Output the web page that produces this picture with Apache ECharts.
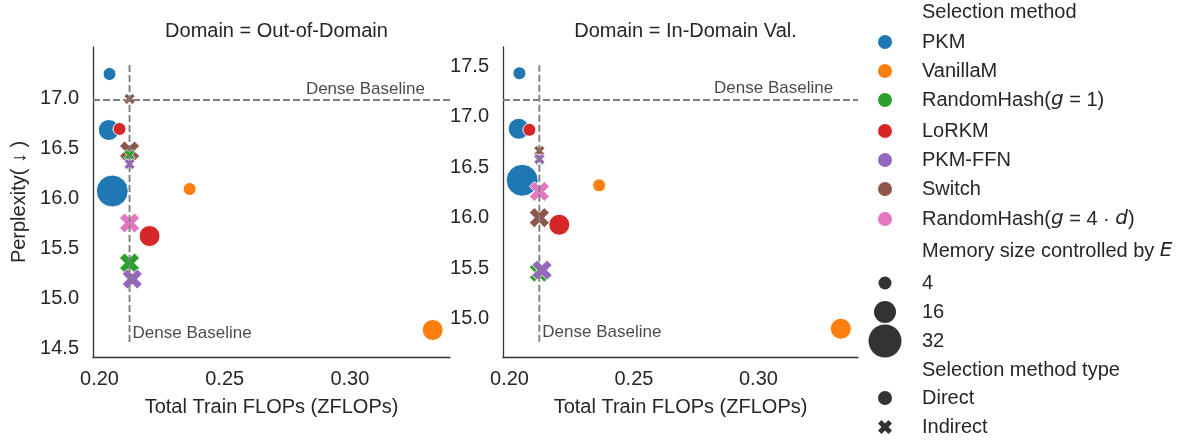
<!DOCTYPE html>
<html lang="en">
<head>
    <meta charset="UTF-8">
    <title>Perplexity vs FLOPs</title>
    <script src="https://cdn.jsdelivr.net/npm/echarts@6/dist/echarts.min.js"></script>
    <style>
        body { margin: 0; background: #fff; }
    </style>
</head>
<body>
<div id="chart" style="width: 1188px;height:441px;"></div>
<script>
    // legend order (hue order)
    var methods = ['PKM', 'VanillaM', 'RandomHash(g=1)', 'LoRKM', 'PKM-FFN', 'Switch', 'RandomHash(g=4d)'];
    var methodColors = ['#1f77b4', '#ff7f0e', '#2ca02c', '#d62728', '#9467bd', '#8c564b', '#e377c2'];
    var methodType = ['Direct', 'Direct', 'Indirect', 'Direct', 'Indirect', 'Indirect', 'Indirect'];
    var memSizes = [4, 16, 32];
    var panels = ['Domain = Out-of-Domain', 'Domain = In-Domain Val.'];
    var xTicks = [0.20, 0.25, 0.30];
    var yTicksOod = [14.5, 15.0, 15.5, 16.0, 16.5, 17.0];
    var yTicksInd = [15.0, 15.5, 16.0, 16.5, 17.0, 17.5];

    // per method: E, train FLOPs, perplexity (out-of-domain / in-domain val.)
    var pkmE = [4, 16, 32];
    var pkmFlops = [0.204, 0.2037, 0.2051];
    var pkmOod = [17.24, 16.68, 16.07];
    var pkmInd = [17.43, 16.88, 16.37];

    var vanillaE = [4, 16];
    var vanillaFlops = [0.236, 0.3331];
    var vanillaOod = [16.09, 14.68];
    var vanillaInd = [16.32, 14.90];

    var rh1E = [4, 16];
    var rh1Flops = [0.212, 0.212];
    var rh1Ood = [16.43, 15.35];
    var rh1Ind = [16.57, 15.46];

    var lorkmE = [4, 16];
    var lorkmFlops = [0.208, 0.220];
    var lorkmOod = [16.69, 15.62];
    var lorkmInd = [16.87, 15.93];

    var pkmffnE = [4, 16];
    var pkmffnFlops = [0.212, 0.2131];
    var pkmffnOod = [16.34, 15.19];
    var pkmffnInd = [16.58, 15.48];

    var switchE = [4, 16];
    var switchFlops = [0.212, 0.212];
    var switchOod = [16.99, 16.47];
    var switchInd = [16.66, 16.00];

    var rh4dE = [16];
    var rh4dFlops = [0.212];
    var rh4dOod = [15.75];
    var rh4dInd = [16.26];

    // dense baseline
    var denseFlops = 0.212;
    var densePpl = [16.98, 17.17];
    var denseVLow = [14.56, 14.77];
    var denseVHigh = [17.33, 17.51];

    // drawing order
    var runs = [
        [0, pkmE, pkmFlops, pkmOod, pkmInd],
        [1, vanillaE, vanillaFlops, vanillaOod, vanillaInd],
        [3, lorkmE, lorkmFlops, lorkmOod, lorkmInd],
        [5, switchE, switchFlops, switchOod, switchInd],
        [2, rh1E, rh1Flops, rh1Ood, rh1Ind],
        [4, pkmffnE, pkmffnFlops, pkmffnOod, pkmffnInd],
        [6, rh4dE, rh4dFlops, rh4dOod, rh4dInd]
    ];

    var TXT = '#262626';
    var FONT = 'Liberation Sans';
    var X_PTS = [[-1, -0.5], [-0.5, -1], [0, -0.5], [0.5, -1], [1, -0.5], [0.5, 0],
        [1, 0.5], [0.5, 1], [0, 0.5], [-0.5, 1], [-1, 0.5], [-0.5, 0]];
    var X_PATH = 'M' + X_PTS.map(function (q) { return q[0] + ',' + q[1]; }).join(' L') + ' Z';
    var circleSize = {4: 13, 16: 21, 32: 32};
    var crossSize = {4: 11, 16: 20, 32: 28};

    var chart = echarts.init(document.getElementById('chart'));

    var grids = [
        {left: 93, top: 47, width: 357, height: 310},
        {left: 503, top: 47, width: 355, height: 310}
    ];
    var yRanges = [[14.41, 17.51], [14.62, 17.69]];
    var yTicks = [yTicksOod, yTicksInd];

    var xAxes = [], yAxes = [], titles = [], series = [];
    for (var p = 0; p < 2; p++) {
        xAxes.push({
            type: 'value', gridIndex: p, min: 0.1974, max: 0.34,
            name: 'Total Train FLOPs (ZFLOPs)', nameLocation: 'middle', nameGap: 40,
            nameTextStyle: {color: TXT, fontSize: 20, fontFamily: FONT},
            axisLine: {show: true, lineStyle: {color: '#333', width: 1.3}},
            axisTick: {show: false},
            splitLine: {show: false},
            axisLabel: {
                customValues: xTicks, margin: 12, color: TXT, fontSize: 20, fontFamily: FONT,
                formatter: function (v) { return v.toFixed(2); }
            }
        });
        yAxes.push({
            type: 'value', gridIndex: p, min: yRanges[p][0], max: yRanges[p][1],
            name: p === 0 ? 'Perplexity( \u2193 )' : '', nameLocation: 'middle', nameGap: 64,
            nameTextStyle: {color: TXT, fontSize: 20, fontFamily: FONT},
            axisLine: {show: true, lineStyle: {color: '#333', width: 1.3}},
            axisTick: {show: false},
            splitLine: {show: false},
            axisLabel: {
                customValues: yTicks[p], margin: 14, color: TXT, fontSize: 20, fontFamily: FONT,
                formatter: function (v) { return v.toFixed(1); }
            }
        });
        titles.push({
            text: panels[p], left: grids[p].left + grids[p].width / 2, top: 16, textAlign: 'center',
            textStyle: {color: TXT, fontSize: 20, fontWeight: 'normal', fontFamily: FONT}
        });

        var dashStyle = {color: '#7f7f7f', width: 1.9, type: [7, 3]};
        // vertical dense baseline + horizontal one as markLine
        series.push({
            type: 'line', xAxisIndex: p, yAxisIndex: p, symbol: 'none', silent: true,
            data: [[denseFlops, denseVLow[p]], [denseFlops, denseVHigh[p]]],
            lineStyle: dashStyle,
            markLine: {
                symbol: 'none', silent: true, label: {show: false},
                lineStyle: dashStyle,
                data: [{yAxis: densePpl[p]}]
            }
        });

        for (var r = 0; r < runs.length; r++) {
            var m = runs[r][0];
            var ppl = p === 0 ? runs[r][3] : runs[r][4];
            var pts = [];
            for (var k = 0; k < runs[r][1].length; k++) {
                pts.push([runs[r][2][k], ppl[k], runs[r][1][k]]);
            }
            var direct = methodType[m] === 'Direct';
            series.push({
                type: 'scatter', name: methods[m], xAxisIndex: p, yAxisIndex: p,
                data: pts,
                symbol: direct ? 'circle' : 'path://' + X_PATH,
                symbolSize: (function (d) {
                    return function (val) { return d ? circleSize[val[2]] : crossSize[val[2]]; };
                })(direct),
                itemStyle: {color: methodColors[m], borderColor: '#fff', borderWidth: direct ? 1 : 0.8, opacity: 1}
            });
        }

        // "Dense Baseline" labels
        series.push({
            type: 'scatter', xAxisIndex: p, yAxisIndex: p, symbolSize: 0, silent: true,
            data: [[0.33, densePpl[p]]],
            label: {show: true, position: 'left', distance: 0, offset: [0, -11], formatter: 'Dense Baseline',
                color: '#1a1a1a', fontSize: 17, fontFamily: FONT}
        });
        series.push({
            type: 'scatter', xAxisIndex: p, yAxisIndex: p, symbolSize: 0, silent: true,
            data: [[denseFlops, p === 0 ? 14.65 : 14.86]],
            label: {show: true, position: 'right', distance: 3, formatter: 'Dense Baseline',
                color: '#1a1a1a', fontSize: 17, fontFamily: FONT}
        });
    }

    // legend drawn as graphics
    var rich = {
        n: {fontSize: 20, fontFamily: FONT, color: TXT},
        i: {fontSize: 20, fontFamily: 'DejaVu Sans', fontStyle: 'italic', color: TXT}
    };
    var legendText = {
        'RandomHash(g=1)': '{n|RandomHash(}{i|g}{n| = 1)}',
        'RandomHash(g=4d)': '{n|RandomHash(}{i|g}{n| = 4 \u00b7 }{i|d}{n|)}'
    };
    var g = [];
    var tx = 922, mx = 885;
    function addText(txt, y) {
        g.push({type: 'text', x: tx, y: y, style: {text: txt, rich: rich, fill: TXT, verticalAlign: 'middle'}});
    }
    addText('{n|Selection method}', 12);
    var methodY = [42, 71, 100, 131, 160, 189, 219];
    for (var i = 0; i < methods.length; i++) {
        g.push({type: 'circle', shape: {cx: mx, cy: methodY[i], r: 7}, style: {fill: methodColors[i]}});
        addText(legendText[methods[i]] || '{n|' + methods[i] + '}', methodY[i]);
    }
    addText('{n|Memory size controlled by }{i|E}', 251);
    var sizeY = [283, 312, 341];
    var sizeR = [6.5, 11, 16.5];
    for (var j = 0; j < memSizes.length; j++) {
        g.push({type: 'circle', shape: {cx: mx, cy: sizeY[j], r: sizeR[j]}, style: {fill: '#333'}});
        addText('{n|' + memSizes[j] + '}', sizeY[j]);
    }
    addText('{n|Selection method type}', 370);
    g.push({type: 'circle', shape: {cx: mx, cy: 398, r: 7}, style: {fill: '#333'}});
    addText('{n|Direct}', 398);
    g.push({type: 'polygon', shape: {points: X_PTS.map(function (q) { return [mx + q[0] * 7, 427 + q[1] * 7]; })},
        style: {fill: '#333'}});
    addText('{n|Indirect}', 427);

    var option = {
        animation: false,
        backgroundColor: '#fff',
        title: titles,
        grid: grids,
        xAxis: xAxes,
        yAxis: yAxes,
        series: series,
        graphic: g
    };
    chart.setOption(option);
</script>
</body>
</html>
